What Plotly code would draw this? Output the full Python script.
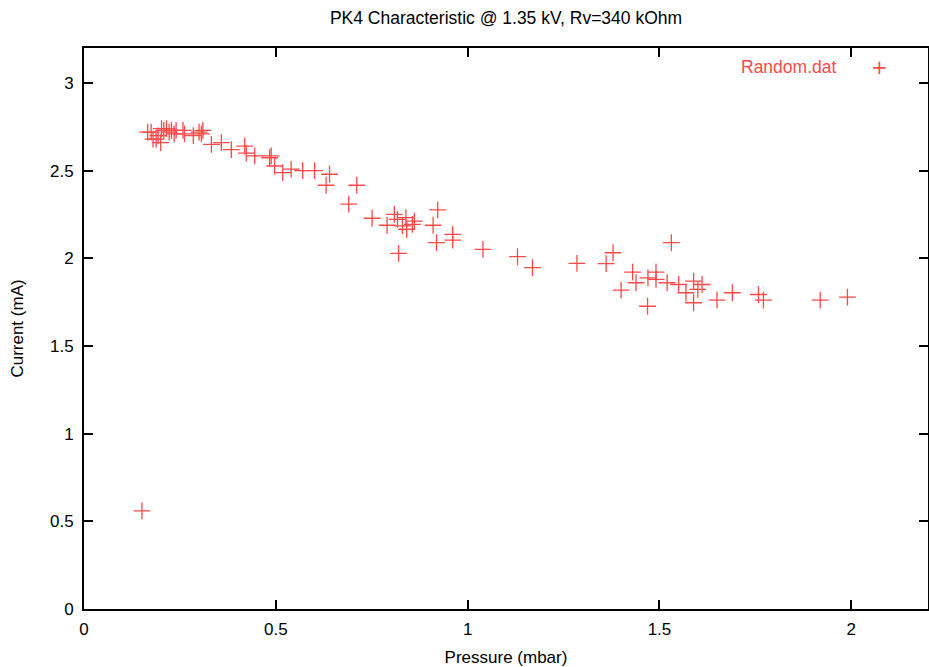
import plotly.graph_objects as go

pressure = [0.151, 0.166, 0.175, 0.180, 0.188, 0.193, 0.200, 0.202, 0.208, 0.215, 0.222, 0.228,
            0.235, 0.240, 0.258, 0.262, 0.285, 0.300, 0.306, 0.310,
            0.332, 0.358, 0.384, 0.419, 0.423, 0.445, 0.484, 0.488, 0.497, 0.518, 0.540,
            0.570, 0.601, 0.631, 0.640, 0.690, 0.711, 0.751, 0.790, 0.809, 0.817, 0.820,
            0.830, 0.839, 0.841, 0.856, 0.861, 0.910, 0.919, 0.922, 0.961, 0.961, 1.040,
            1.130, 1.169, 1.285, 1.361, 1.379, 1.400, 1.430, 1.439, 1.469, 1.470, 1.491,
            1.491, 1.520, 1.531, 1.550, 1.569, 1.589, 1.589, 1.600, 1.611, 1.650, 1.690,
            1.758, 1.771, 1.919, 1.990]
current = [0.56, 2.72, 2.72, 2.68, 2.68, 2.70, 2.66, 2.74, 2.73, 2.74, 2.72, 2.73,
           2.71, 2.73, 2.73, 2.71, 2.70, 2.72, 2.71, 2.73,
           2.65, 2.66, 2.62, 2.64, 2.60, 2.585, 2.574, 2.585, 2.527, 2.489, 2.509,
           2.50, 2.50, 2.417, 2.48, 2.309, 2.417, 2.229, 2.189, 2.251, 2.223, 2.029,
           2.185, 2.232, 2.166, 2.194, 2.213, 2.189, 2.09, 2.277, 2.137, 2.104, 2.051,
           2.01, 1.947, 1.972, 1.97, 2.032, 1.819, 1.922, 1.861, 1.727, 1.889, 1.922,
           1.88, 1.861, 2.09, 1.851, 1.804, 1.87, 1.747, 1.823, 1.851, 1.762, 1.804,
           1.794, 1.762, 1.762, 1.779]

series_name = "Random.dat"
title_text = "PK4 Characteristic @ 1.35 kV, Rv=340 kOhm"
x_title = "Pressure (mbar)"
y_title = "Current (mA)"
x_ticks = [0, 0.5, 1, 1.5, 2]
y_ticks = [0, 0.5, 1, 1.5, 2, 2.5, 3]

red = "rgb(255,72,72)"
font = "Liberation Sans, Arial, sans-serif"

fig = go.Figure()
fig.add_trace(go.Scatter(
    x=pressure, y=current, mode="markers", name=series_name,
    marker=dict(symbol="cross-thin-open", size=12, color=red,
                line=dict(color=red, width=1.3)),
    showlegend=False,
))

fig.update_layout(
    width=929, height=667,
    margin=dict(l=84, r=1, t=48, b=58, autoexpand=False),
    paper_bgcolor="white", plot_bgcolor="white",
    font=dict(family=font, size=17, color="black"),
    title=dict(text=title_text, x=0.5, xanchor="center", y=1 - 18 / 667, yanchor="middle",
               xref="paper",
               font=dict(family=font, size=17.5, color="black")),
    xaxis=dict(range=[0, 2.2], tickvals=x_ticks, ticktext=[str(v) for v in x_ticks],
               ticks="inside", ticklen=9, tickwidth=1.5, tickcolor="black",
               ticklabelstandoff=4, tickfont=dict(size=17),
               showline=True, linecolor="black", linewidth=2, mirror="ticks",
               showgrid=False, zeroline=False, automargin=False,
               title=dict(text=x_title, standoff=14, font=dict(size=17))),
    yaxis=dict(range=[0, 3.2], tickvals=y_ticks, ticktext=[str(v) for v in y_ticks],
               ticks="inside", ticklen=9, tickwidth=1.5, tickcolor="black",
               ticklabelstandoff=5, tickfont=dict(size=17),
               showline=True, linecolor="black", linewidth=2, mirror="ticks",
               showgrid=False, zeroline=False, automargin=False,
               title=dict(text=y_title, standoff=22, font=dict(size=17))),
)

fig.add_annotation(xref="paper", yref="paper", x=0.893, y=0.966, text=series_name,
                   showarrow=False, xanchor="right", yanchor="middle",
                   font=dict(family=font, size=17.5, color=red))
fig.add_annotation(xref="paper", yref="paper", x=0.942, y=0.966, text="+",
                   showarrow=False, xanchor="center", yanchor="middle",
                   font=dict(family="DejaVu Sans", size=20, color=red))

fig.write_html("out.html", config={"displayModeBar": False},
               post_script="document.body.style.margin='0px';document.body.style.overflow='hidden';")
